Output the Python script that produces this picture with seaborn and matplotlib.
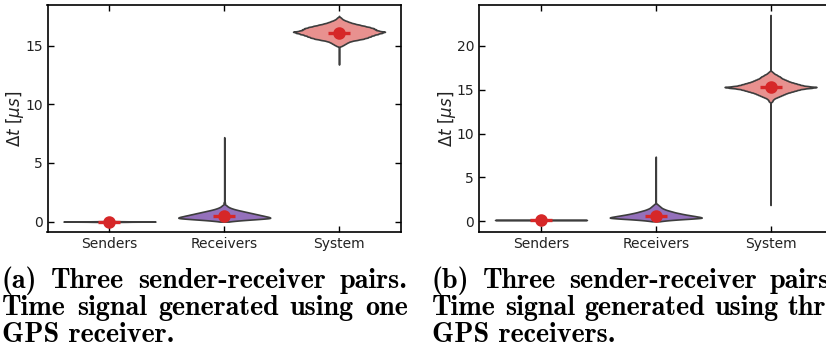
import os
import numpy as np
import pandas as pd
import matplotlib
matplotlib.use("Agg")
import matplotlib.pyplot as plt
import seaborn as sns
from matplotlib.font_manager import FontProperties

# ---------------------------------------------------------------- data
categories = ["Senders", "Receivers", "System"]

# Clock offset distributions (value grid in microseconds, relative weight)
# (a) one GPS receiver
senders_a_vals = [-0.04, -0.02, 0.00, 0.02, 0.04]
senders_a_wts = [5, 30, 80, 30, 5]
receivers_a_vals = [0.0, 0.1, 0.2, 0.3, 0.4, 0.5, 0.6, 0.7, 0.8, 0.9,
                    1.0, 1.1, 1.2, 1.3, 1.4, 1.6]
receivers_a_wts = [3, 14, 30, 46, 42, 37, 32, 27, 22, 17, 12, 8, 5, 3, 2, 1]
receivers_a_tail = [7.2]
system_a_vals = [15.0, 15.1, 15.2, 15.3, 15.4, 15.5, 15.6, 15.7, 15.8, 15.9,
                 16.0, 16.1, 16.2, 16.3, 16.4, 16.5, 16.6, 16.7, 16.8, 16.9,
                 17.0, 17.1, 17.2, 17.3, 17.4]
system_a_wts = [3, 5, 7, 9, 12, 18, 24, 28, 31, 34,
                38, 42, 46, 38, 36, 34, 30, 25, 20, 15,
                11, 8, 5, 3, 2]
system_a_tail = [13.4, 14.0, 14.5, 14.8, 17.55]

# (b) three GPS receivers
senders_b_vals = [0.11, 0.13, 0.15, 0.17, 0.19]
senders_b_wts = [5, 30, 80, 30, 5]
receivers_b_vals = [0.0, 0.1, 0.2, 0.3, 0.4, 0.5, 0.6, 0.7, 0.8, 0.9,
                    1.0, 1.1, 1.2, 1.3, 1.4, 1.5, 1.6, 1.7, 1.8, 1.9, 2.0]
receivers_b_wts = [3, 10, 20, 34, 46, 42, 37, 32, 27, 23,
                   19, 16, 13, 10, 8, 6, 5, 4, 3, 2, 1]
receivers_b_tail = [7.36]
system_b_vals = [13.6, 13.7, 13.8, 13.9, 14.0, 14.1, 14.2, 14.3, 14.4, 14.5,
                 14.6, 14.7, 14.8, 14.9, 15.0, 15.1, 15.2, 15.3, 15.4, 15.5,
                 15.6, 15.7, 15.8, 15.9, 16.0, 16.1, 16.2, 16.3, 16.4, 16.5,
                 16.6, 16.7, 16.8, 16.9, 17.0, 17.1]
system_b_wts = [1, 2, 2, 3, 4, 6, 8, 10, 12, 14,
                16, 19, 22, 25, 28, 32, 40, 46, 36, 31,
                28, 25, 22, 19, 17, 15, 13, 11, 10, 9,
                7, 6, 4, 3, 2, 1]
system_b_tail = [1.86, 23.5]

# Mean offsets shown as red markers
mean_a = [0.0, 0.45, 16.1]
mean_b = [0.15, 0.65, 15.3]

captions = [
    ["(a) Three sender-receiver pairs.",
     "Time signal generated using one",
     "GPS receiver."],
    ["(b) Three sender-receiver pairs.",
     "Time signal generated using three",
     "GPS receivers."],
]

fill_colors = ["#8c8c8c", "#9470bb", "#e8918f"]
edge_color = "#3d3d3d"
mean_color = "#d62728"

# ---------------------------------------------------------------- helpers
SCALE = 20


def samples(vals, wts, tail=()):
    core = np.repeat(np.asarray(vals, float), np.asarray(wts) * SCALE)
    return np.concatenate([core, np.asarray(tail, float)])


def abs_bw(width):
    def factor(kde):
        return width / np.std(kde.dataset, ddof=1)
    return factor


panels = [
    dict(groups=[samples(senders_a_vals, senders_a_wts),
                 samples(receivers_a_vals, receivers_a_wts, receivers_a_tail),
                 samples(system_a_vals, system_a_wts, system_a_tail)],
         bws=[0.008, 0.06, 0.05], means=mean_a,
         ylim=(-0.89, 18.48), yticks=[0, 5, 10, 15]),
    dict(groups=[samples(senders_b_vals, senders_b_wts),
                 samples(receivers_b_vals, receivers_b_wts, receivers_b_tail),
                 samples(system_b_vals, system_b_wts, system_b_tail)],
         bws=[0.008, 0.06, 0.05], means=mean_b,
         ylim=(-1.22, 24.64), yticks=[0, 5, 10, 15, 20]),
]

# ---------------------------------------------------------------- figure
W, H = 826, 356
fig = plt.figure(figsize=(W / 100, H / 100), dpi=100)
ax_lefts = [47.5, 479]
ax_w, ax_top, ax_bot = 353.5, 5, 232

for left, p in zip(ax_lefts, panels):
    ax = fig.add_axes([left / W, (H - ax_bot) / H, ax_w / W,
                       (ax_bot - ax_top) / H])
    for cat, data, bw, col in zip(categories, p["groups"], p["bws"],
                                  fill_colors):
        df = pd.DataFrame({"group": cat, "dt": data})
        sns.violinplot(data=df, x="group", y="dt", order=categories,
                       color=col, saturation=1, inner=None, cut=0,
                       density_norm="width", width=0.8, gridsize=3000,
                       bw_method=abs_bw(bw), linecolor=edge_color,
                       linewidth=1.2, ax=ax)
    mdf = pd.DataFrame({"group": categories, "dt": p["means"]})
    sns.pointplot(data=mdf, x="group", y="dt", order=categories,
                  linestyle="none", markers="_", color=mean_color,
                  errorbar=None, markersize=16, markeredgewidth=2.4, ax=ax)
    sns.pointplot(data=mdf, x="group", y="dt", order=categories,
                  linestyle="none", markers="o", color=mean_color,
                  errorbar=None, markersize=7, ax=ax)

    ax.set_xlim(-0.54, 2.54)
    ax.set_ylim(*p["ylim"])
    ax.set_yticks(p["yticks"])
    ax.set_xlabel("")
    ax.set_ylabel(r"$\Delta t\ [\mu s]$", fontsize=12, color="#222222",
                  labelpad=-1)
    ax.tick_params(direction="in", top=True, right=True, length=4,
                   width=1, labelsize=10, labelcolor="#222222")
    for s in ax.spines.values():
        s.set_linewidth(1.2)
        s.set_color("black")

# ---------------------------------------------------------------- captions
cm_bold = os.path.join(matplotlib.get_data_path(), "fonts", "ttf",
                       "cmb10.ttf")
if os.path.exists(cm_bold):
    cap_font = FontProperties(fname=cm_bold, size=10)
else:
    cap_font = FontProperties(family="DejaVu Serif", weight="bold", size=10)

renderer = fig.canvas.get_renderer()
cap_x = [2, 432]
cap_width = 406
baselines = [288, 315, 342]

# size the caption font so the second line of (a) nearly fills the column
probe = fig.text(0, 0, captions[0][1], fontproperties=cap_font)
probe_w = probe.get_window_extent(renderer).width
probe.remove()
cap_font.set_size(10 * (cap_width - 6) / probe_w)

space_probe = fig.text(0, 0, "a a", fontproperties=cap_font)
aa = fig.text(0, 0, "aa", fontproperties=cap_font)
space_w = (space_probe.get_window_extent(renderer).width
           - aa.get_window_extent(renderer).width)
space_probe.remove()
aa.remove()

for x0, lines in zip(cap_x, captions):
    for i, (line, yb) in enumerate(zip(lines, baselines)):
        yf = 1 - yb / H
        if i == len(lines) - 1:
            fig.text(x0 / W, yf, line, fontproperties=cap_font,
                     va="baseline", ha="left")
            continue
        words = line.split(" ")
        texts = [fig.text(0, yf, w, fontproperties=cap_font,
                          va="baseline", ha="left") for w in words]
        widths = [t.get_window_extent(renderer).width for t in texts]
        gap = max(space_w, (cap_width - sum(widths)) / (len(words) - 1))
        x = x0
        for t, w in zip(texts, widths):
            t.set_x(x / W)
            x += w + gap

fig.savefig("out.png", dpi=100)
